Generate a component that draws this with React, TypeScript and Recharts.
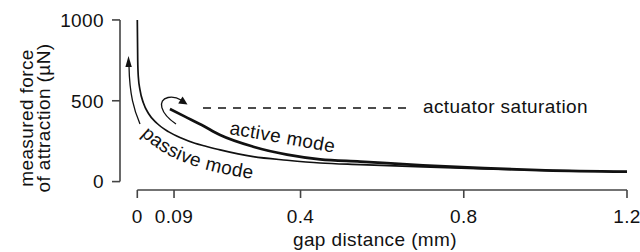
import React from "react";
import { LineChart, Line, XAxis, YAxis, ReferenceLine } from "recharts";

const passiveGap = [0, 0.001, 0.0025, 0.0066, 0.015, 0.027, 0.048, 0.076, 0.109, 0.141, 0.166, 0.203, 0.284, 0.367, 0.448, 0.546, 0.7, 0.85, 1.0, 1.2];
const passiveForce = [1000, 752, 649, 567, 486, 423, 361, 309, 268, 237, 220, 196, 154, 132, 115, 105, 91, 79, 69, 61];

const activeGap = [0.08, 0.117, 0.158, 0.203, 0.284, 0.367, 0.448, 0.546, 0.7, 0.85, 1.0, 1.2];
const activeForce = [449, 402, 350, 288, 216, 167, 138, 124, 100, 83, 70, 62];

const gapTicks = [0, 0.09, 0.4, 0.8, 1.2];
const forceTicks = [0, 500, 1000];

const saturationForce = 455;
const saturationFrom = 0.161;
const saturationTo = 0.663;

const X_MIN = -0.0424;
const X_MAX = 1.2;
const Y_MIN = -52;
const Y_MAX = 1012;

const passiveData = passiveGap.map((x, i) => ({ x, f: passiveForce[i] }));
const activeData = activeGap.map((x, i) => ({ x, f: activeForce[i] }));

const INK = "#111";
const AXIS = "#444";
const FONT = "'Liberation Sans', Arial, Helvetica, sans-serif";

function Annotations() {
  return (
    <svg
      width={640}
      height={252}
      style={{ position: "absolute", left: 0, top: 0, pointerEvents: "none" }}
    >
      <defs>
        <path id="passivePath" d="M 141 135 C 160 153 186 171 268 181" />
        <path id="activePath" d="M 229 134 Q 282 143 340 154" />
      </defs>
      {/* y axis title */}
      <text transform="translate(33,118) rotate(-90)" textAnchor="middle" fontSize={19} fill={INK}>
        measured force
      </text>
      <text transform="translate(50,118) rotate(-90)" textAnchor="middle" fontSize={19} fill={INK}>
        of attraction (µN)
      </text>
      <text x={375} y={246} textAnchor="middle" fontSize={19} fill={INK}>
        gap distance (mm)
      </text>
      <text x={423} y={113} fontSize={19} fill={INK}>
        actuator saturation
      </text>
      <text fontSize={19} fill={INK}>
        <textPath href="#passivePath">passive mode</textPath>
      </text>
      <text fontSize={19} fill={INK}>
        <textPath href="#activePath">active mode</textPath>
      </text>
      {/* passive arrow */}
      <path d="M 140 124 C 134 110 129.6 95 129 66" fill="none" stroke={INK} strokeWidth={1.3} />
      <polygon points="128.5,56 125.4,67 131.8,67" fill={INK} />
      {/* active hook arrow */}
      <path
        d="M 176 124 C 160 113 157 100 168 97.5 C 173 96.5 177 97.5 181 100"
        fill="none"
        stroke={INK}
        strokeWidth={1.3}
      />
      <polygon points="187.5,104.5 178.2,103.6 182.6,96.6" fill={INK} />
    </svg>
  );
}

export default function App() {
  return (
    <div
      style={{
        position: "absolute",
        left: 0,
        top: 0,
        width: 640,
        height: 252,
        background: "#fff",
        fontFamily: FONT,
        letterSpacing: "0.4px",
      }}
    >
      <LineChart
        width={640}
        height={252}
        margin={{ top: 18, right: 13, bottom: 22, left: 60 }}
      >
        <XAxis
          type="number"
          dataKey="x"
          domain={[X_MIN, X_MAX]}
          allowDataOverflow
          ticks={gapTicks}
          interval={0}
          axisLine={false}
          tickLine={{ stroke: AXIS, strokeWidth: 1.6 }}
          tickSize={8}
          tickMargin={11.5}
          height={40}
          tick={{ fill: INK, fontSize: 19 }}
        />
        <YAxis
          type="number"
          domain={[Y_MIN, Y_MAX]}
          allowDataOverflow
          ticks={forceTicks}
          interval={0}
          axisLine={false}
          tickLine={{ stroke: AXIS, strokeWidth: 1.6 }}
          tickSize={8}
          tickMargin={8}
          width={60}
          tick={{ fill: INK, fontSize: 19 }}
        />
        <ReferenceLine
          segment={[{ x: X_MIN, y: 0 }, { x: X_MIN, y: 1000 }]}
          stroke={AXIS}
          strokeWidth={1.6}
          ifOverflow="visible"
        />
        <ReferenceLine
          segment={[{ x: 0, y: Y_MIN }, { x: X_MAX, y: Y_MIN }]}
          stroke={AXIS}
          strokeWidth={1.6}
          ifOverflow="visible"
        />
        <ReferenceLine
          segment={[{ x: saturationFrom, y: saturationForce }, { x: saturationTo, y: saturationForce }]}
          stroke={INK}
          strokeWidth={1.4}
          strokeDasharray="8 7"
          ifOverflow="visible"
        />
        <Line
          data={passiveData}
          dataKey="f"
          type="monotone"
          stroke={INK}
          strokeWidth={1.7}
          dot={false}
          isAnimationActive={false}
        />
        <Line
          data={activeData}
          dataKey="f"
          type="monotone"
          stroke={INK}
          strokeWidth={2.7}
          dot={false}
          isAnimationActive={false}
        />
      </LineChart>
      <Annotations />
    </div>
  );
}
